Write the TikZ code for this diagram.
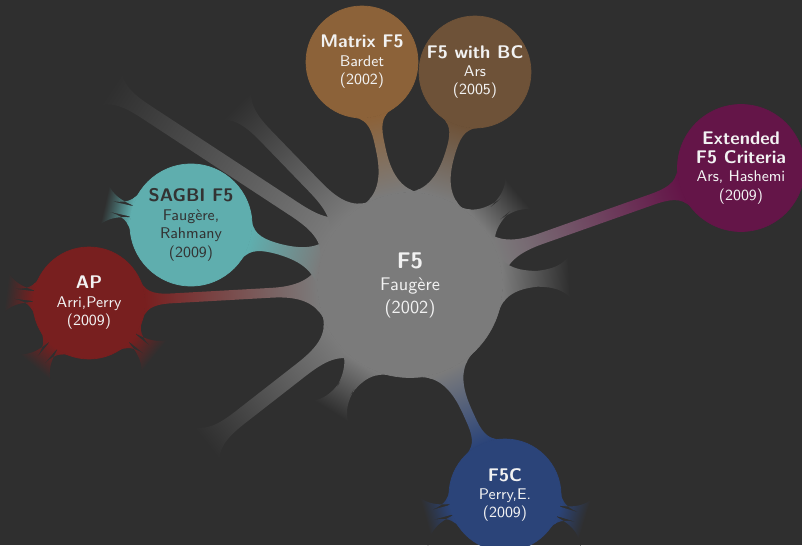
\documentclass[tikz,border=0pt]{standalone}
\usetikzlibrary{mindmap}

\definecolor{bgc}{HTML}{2F2F2F}
\definecolor{hubc}{HTML}{7B7B7B}
\definecolor{matrixc}{HTML}{8C6239}
\definecolor{bcc}{HTML}{6E5238}
\definecolor{extc}{HTML}{641548}
\definecolor{fcc}{HTML}{2B4479}
\definecolor{apc}{HTML}{781F1F}
\definecolor{sagc}{HTML}{5FAEAE}
\definecolor{txtc}{HTML}{F2F2F2}
\definecolor{darktxt}{HTML}{333333}

\pgfdeclarelayer{backdrop}
\pgfdeclarelayer{links}
\pgfsetlayers{backdrop,links,main}

\newcommand\ctitle[1]{{\bfseries\fontsize{10.4}{10.5}\selectfont #1}}
\newcommand\htitle[1]{{\bfseries\fontsize{12.9}{13}\selectfont #1}}

\begin{document}
\begin{tikzpicture}[mindmap,
  hub/.style={concept, concept color=hubc, minimum size=3.7cm, inner sep=0pt,
    text width={}, align=center, text=txtc,
    font=\sffamily\fontsize{10.4}{12.8}\selectfont},
  leaf/.style={concept, concept color=#1, minimum size=2.24cm, inner sep=0pt,
    text width={}, align=center, text=txtc,
    font=\sffamily\fontsize{8.8}{10.5}\selectfont},
  ghost/.style={circle, minimum size=#1, inner sep=0pt},
  linkw/.style={line width=2mm}
]
\useasboundingbox (0,0) rectangle (16.04,10.9);
\begin{pgfonlayer}{backdrop}
  \fill[bgc] (0,0) rectangle (16.04,10.9);
\end{pgfonlayer}
\clip (0,0) rectangle (16.04,10.9);

% main concepts
\node[hub] (root) at (8.20,5.20) {\htitle{F5}\\Faugère\\(2002)};
\node[leaf=matrixc] (matrix) at (7.24,9.66) {\ctitle{Matrix F5}\\Bardet\\(2002)};
\node[leaf=bcc] (bc) at (9.50,9.46) {\ctitle{F5 with BC}\\Ars\\(2005)};
\node[leaf=extc, minimum size=2.54cm] (ext) at (14.82,7.54)
  {\ctitle{Extended}\\\ctitle{F5 Criteria}\\Ars, Hashemi\\(2009)};
\node[leaf=fcc] (f5c) at (10.10,1.00) {\ctitle{F5C}\\Perry,E.\\(2009)};
\node[leaf=apc] (ap) at (1.78,4.84) {\ctitle{AP}\\Arri,Perry\\(2009)};
\node[leaf=sagc, minimum size=2.44cm, text=darktxt] (sagbi) at (3.82,6.40)
  {\ctitle{SAGBI F5}\\Faugère,\\Rahmany\\(2009)};

% hidden concepts (fade into the background)
\node[ghost=2.24cm] (g1) at (0.76,10.08) {};
\node[ghost=2.24cm] (g2) at (3.52,10.04) {};
\node[ghost=2.24cm] (g3) at (2.76,0.96) {};
\node[ghost=2.24cm] (g4) at (5.70,1.20) {};
\node[ghost=2.24cm] (g5) at (13.12,5.44) {};
\node[ghost=2.24cm] (g6) at (11.70,8.14) {};
\node[ghost=1.8cm] (s1) at (0.39,7.19) {};
\node[ghost=1.8cm] (a1) at (-1.61,5.26) {};
\node[ghost=1.8cm] (a2) at (-0.42,2.22) {};
\node[ghost=1.8cm] (a3) at (4.44,2.69) {};
\node[ghost=1.8cm] (f1) at (6.82,0.10) {};
\node[ghost=1.8cm] (f2) at (13.36,0.00) {};

\begin{pgfonlayer}{links}
  \path[linkw] (root) to[circle connection bar switch color=from (hubc) to (matrixc)] (matrix);
  \path[linkw] (root) to[circle connection bar switch color=from (hubc) to (bcc)] (bc);
  \path[linkw] (root) to[circle connection bar switch color=from (hubc) to (extc)] (ext);
  \path[linkw] (root) to[circle connection bar switch color=from (hubc) to (fcc)] (f5c);
  \path[linkw] (root) to[circle connection bar switch color=from (hubc) to (apc)] (ap);
  \path[linkw] (root) to[circle connection bar switch color=from (hubc) to (sagc)] (sagbi);
  \foreach \g in {g1,g2,g3,g4,g5,g6}
    \path[linkw] (root) to[circle connection bar switch color=from (hubc) to (bgc)] (\g);
  \path[linkw] (sagbi) to[circle connection bar switch color=from (sagc) to (bgc)] (s1);
  \foreach \g in {a1,a2,a3}
    \path[linkw] (ap) to[circle connection bar switch color=from (apc) to (bgc)] (\g);
  \foreach \g in {f1,f2}
    \path[linkw] (f5c) to[circle connection bar switch color=from (fcc) to (bgc)] (\g);
\end{pgfonlayer}
\end{tikzpicture}
\end{document}
